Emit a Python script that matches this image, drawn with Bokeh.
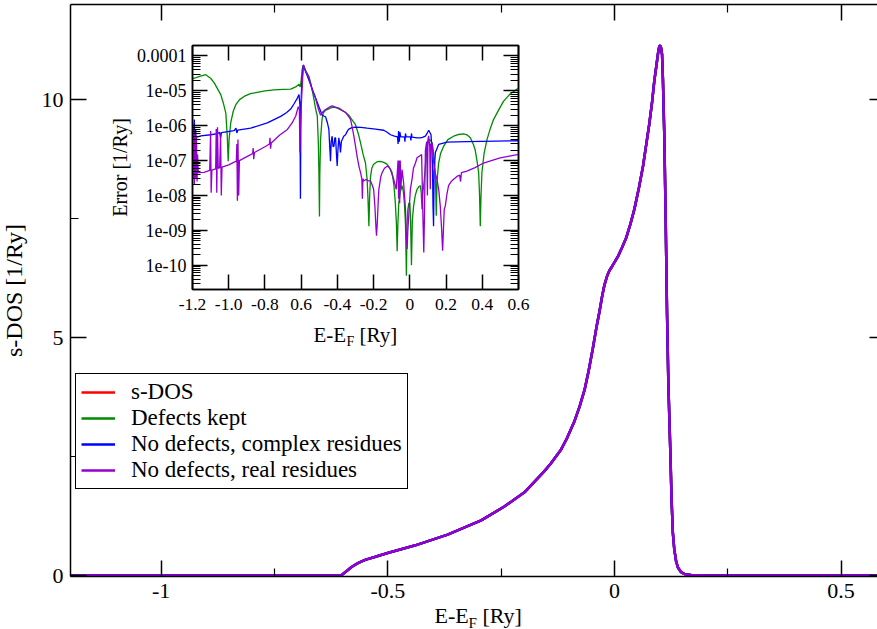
import math
from bokeh.plotting import figure
from bokeh.models import (Range1d, FixedTicker, LinearAxis, LogAxis, Legend, LegendItem,
                          Label, CustomJSTickFormatter, GridBox)
from bokeh.embed import file_html
from bokeh.resources import INLINE

FONT = "Liberation Serif"

# ---------------- main panel data (s-DOS) ----------------
dos_energy = [-1.2, -0.603, -0.59, -0.58, -0.566, -0.55, -0.529, -0.4985, -0.441, -0.368,
              -0.294, -0.243, -0.1985, -0.154, -0.14, -0.1176, -0.105, -0.088, -0.077, -0.066,
              -0.057, -0.0477, -0.04, -0.033, -0.027, -0.022, -0.016, -0.011, -0.005, 0.0075,
              0.016, 0.026, 0.035, 0.044, 0.054, 0.063, 0.07, 0.077, 0.083, 0.088, 0.093,
              0.097, 0.099, 0.1008, 0.103, 0.105, 0.107, 0.110, 0.113, 0.116, 0.119, 0.1235,
              0.126, 0.1288, 0.132, 0.136, 0.14, 0.147, 0.155, 0.169, 0.2, 0.6]
dos_value = [0.0, 0.0, 0.1, 0.18, 0.26, 0.33, 0.39, 0.48, 0.63, 0.86,
             1.16, 1.45, 1.75, 2.2, 2.36, 2.65, 2.88, 3.25, 3.55, 3.9,
             4.3, 4.77, 5.2, 5.55, 5.88, 6.11, 6.3, 6.41, 6.5, 6.7,
             6.88, 7.1, 7.38, 7.7, 8.15, 8.6, 9.05, 9.5, 9.95, 10.4, 10.75,
             11.03, 11.12, 11.14, 11.08, 10.95, 10.4, 9.24, 7.5, 5.51, 4.0, 2.53,
             1.6, 0.9, 0.55, 0.30, 0.17, 0.07, 0.03, 0.01, 0.0, 0.0]

main_xticks = [-1.0, -0.5, 0.0, 0.5]
main_xtick_labels = ["-1", "-0.5", "0", "0.5"]
main_xminor = [-0.75, -0.25, 0.25]
main_yticks = [0.0, 5.0, 10.0]
main_ytick_labels = ["0", "5", "10"]
main_yminor = [2.5, 7.5]

series_names = ["s-DOS", "Defects kept", "No defects, complex residues", "No defects, real residues"]
series_colors = ["#ff0000", "#008b00", "#0000ff", "#9400d3"]

# ---------------- inset data (errors) ----------------
green_x = [-1.2, -1.19, -1.16, -1.127, -1.10, -1.08, -1.06, -1.044, -1.03, -1.016, -1.008, -1.003,
           -0.998, -0.989, -0.975, -0.961, -0.94, -0.915, -0.88, -0.842, -0.80, -0.75, -0.70, -0.658,
           -0.63, -0.612, -0.605, -0.60, -0.595, -0.588, -0.575, -0.557, -0.545, -0.53, -0.52, -0.511,
           -0.505, -0.502, -0.499, -0.497, -0.493, -0.485, -0.478, -0.465, -0.456, -0.44, -0.419, -0.40,
           -0.383, -0.36, -0.337, -0.32, -0.30, -0.285, -0.272, -0.258, -0.245, -0.236, -0.231, -0.226,
           -0.222, -0.217, -0.21, -0.20, -0.18, -0.162, -0.14, -0.125, -0.11, -0.098, -0.088, -0.08,
           -0.074, -0.07, -0.066, -0.061, -0.052, -0.043, -0.036, -0.03, -0.024, -0.019, -0.015, -0.011,
           -0.005, 0.0, 0.004, 0.009, 0.014, 0.021, 0.03, 0.04, 0.05, 0.058, 0.063, 0.067, 0.072, 0.08,
           0.09, 0.098, 0.104, 0.113, 0.123, 0.13, 0.137, 0.142, 0.146, 0.150, 0.159, 0.17, 0.187, 0.21,
           0.242, 0.27, 0.297, 0.315, 0.334, 0.35, 0.361, 0.372, 0.38, 0.385, 0.389, 0.393, 0.398, 0.41,
           0.426, 0.445, 0.462, 0.49, 0.517, 0.55, 0.6]
green_err = [2.3e-5, 2.3e-5, 2.6e-5, 2.9e-5, 2.3e-5, 1.7e-5, 1.1e-5, 7.8e-6, 4.5e-6, 2.3e-6, 5e-7, 9.5e-8,
             4e-7, 1.2e-6, 2.6e-6, 4e-6, 5.6e-6, 6.9e-6, 8.3e-6, 9.1e-6, 1.0e-5, 1.07e-5, 1.1e-5, 1.12e-5,
             1.3e-5, 1.55e-5, 1.3e-5, 2.0e-5, 4e-5, 5.5e-5, 3.8e-5, 2.6e-5, 1.5e-5, 6e-6, 3e-6, 1.9e-6,
             3e-7, 4.5e-8, 2.5e-9, 4e-8, 4e-7, 1.5e-6, 2.3e-6, 2.8e-6, 2.9e-6, 3.2e-6, 3.4e-6, 3.2e-6,
             2.9e-6, 2.5e-6, 2.0e-6, 1.5e-6, 1.07e-6, 6e-7, 3.2e-7, 1.5e-7, 8.5e-8, 3e-8, 8e-9, 1.3e-9,
             9e-9, 3.5e-8, 6e-8, 7.8e-8, 9.3e-8, 9.5e-8, 8.7e-8, 7.8e-8, 6e-8, 4.5e-8, 2e-8, 6e-9,
             1.5e-9, 2.5e-10, 1.5e-9, 6e-9, 1.3e-8, 1.9e-8, 1.3e-8, 6e-9, 1.5e-9, 5e-11, 1.5e-9, 4e-9,
             6e-9, 6e-9, 2e-9, 1e-10, 2e-9, 5e-9, 1e-8, 1.5e-8, 1.8e-8, 1.9e-8, 1.2e-8, 4e-9, 1.2e-8, 2.9e-8,
             1.2e-7, 3e-7, 4e-7, 3.9e-7, 3.2e-7, 1.8e-7, 8.5e-8, 2.5e-8, 2.6e-9, 2.5e-8, 8.5e-8, 1.6e-7, 2.6e-7, 4e-7,
             5e-7, 5.6e-7, 5.8e-7, 5.5e-7, 4.5e-7, 3e-7, 2e-7, 9e-8, 4.5e-8, 1e-8, 1.3e-9, 1e-8, 4.5e-8, 1.6e-7,
             4e-7, 8.5e-7, 1.5e-6, 2.8e-6, 5e-6, 7.8e-6, 1.2e-5]

blue_x = [-1.195, -1.19, -1.187, -1.183, -1.18, -1.154, -1.10, -1.062, -1.05, -1.045, -1.04, -0.97,
          -0.96, -0.955, -0.95, -0.879, -0.787, -0.75, -0.713, -0.68, -0.658, -0.64, -0.621, -0.612,
          -0.607, -0.604, -0.601, -0.597, -0.588, -0.575, -0.557, -0.53, -0.502, -0.484, -0.475, -0.465,
          -0.455, -0.447, -0.443, -0.438, -0.434, -0.429, -0.424, -0.419, -0.414, -0.41, -0.405, -0.401,
          -0.397, -0.392, -0.387, -0.383, -0.378, -0.373, -0.365, -0.355, -0.345, -0.337, -0.32, -0.30,
          -0.27, -0.236, -0.19, -0.144, -0.125, -0.107, -0.085, -0.068, -0.065, -0.062, -0.058, -0.055,
          -0.05, -0.03, -0.027, -0.024, -0.02, 0.003, 0.006, 0.009, 0.012, 0.04, 0.058, 0.07, 0.086,
          0.095, 0.104, 0.11, 0.117, 0.121, 0.125, 0.128, 0.131, 0.134, 0.141, 0.159, 0.205, 0.315, 0.6]
blue_err = [4.5e-7, 1.5e-6, 3e-7, 8e-7, 4.6e-7, 5.1e-7, 5.5e-7, 5.9e-7, 6.5e-7, 4.5e-7, 6.3e-7, 7.2e-7,
            8.5e-7, 6.2e-7, 7.5e-7, 8.5e-7, 1.2e-6, 1.5e-6, 1.85e-6, 2.4e-6, 3.0e-6, 4.2e-6, 6.2e-6, 7.8e-6,
            4e-6, 8e-9, 4e-6, 1.5e-5, 5.5e-5, 3.5e-5, 2.0e-5, 8.5e-6, 3.5e-6, 2.0e-6, 1.9e-6, 1.8e-6,
            1.2e-6, 7.8e-7, 3e-7, 9.5e-8, 3.5e-7, 5e-7, 2.5e-7, 2.6e-7, 4.5e-7, 4.5e-7, 1.5e-7, 7e-8,
            2e-7, 4.5e-7, 3e-7, 1.7e-7, 3.5e-7, 4e-7, 5e-7, 5.5e-7, 7e-7, 8e-7, 8.8e-7, 9.1e-7,
            9e-7, 8.5e-7, 8e-7, 7.4e-7, 6.5e-7, 5.5e-7, 5e-7, 4.8e-7, 3e-7, 7e-7, 3.5e-7, 6.5e-7,
            4.8e-7, 4.8e-7, 3.5e-7, 6e-7, 4.8e-7, 4.8e-7, 3.8e-7, 6e-7, 4.7e-7, 4.5e-7, 4.5e-7, 4.6e-7, 5e-7,
            6e-7, 7.4e-7, 6.5e-7, 5.5e-7, 2.5e-7, 8e-8, 5e-9, 1.3e-9, 5e-8, 1.7e-7, 2.9e-7, 3.4e-7, 3.5e-7, 3.7e-7]

purple_x = [-1.2, -1.197, -1.193, -1.19, -1.186, -1.182, -1.178, -1.175, -1.172, -1.168, -1.136, -1.105,
            -1.10, -1.097, -1.093, -1.072, -1.069, -1.066, -1.062, -1.058, -1.05, -1.045, -1.041, -1.037,
            -1.0, -0.97, -0.958, -0.955, -0.952, -0.949, -0.945, -0.941, -0.879, -0.868, -0.865, -0.862,
            -0.858, -0.80, -0.775, -0.772, -0.769, -0.765, -0.72, -0.676, -0.65, -0.63, -0.616, -0.610,
            -0.607, -0.604, -0.597, -0.588, -0.575, -0.557, -0.54, -0.521, -0.505, -0.493, -0.48, -0.465,
            -0.445, -0.429, -0.41, -0.392, -0.37, -0.355, -0.34, -0.327, -0.318, -0.309, -0.30, -0.291,
            -0.28, -0.272, -0.265, -0.262, -0.259, -0.254, -0.241, -0.23, -0.217, -0.208, -0.2, -0.193,
            -0.187, -0.184, -0.18, -0.175, -0.171, -0.16, -0.153, -0.14, -0.125, -0.115, -0.107, -0.098,
            -0.089, -0.075, -0.065, -0.062, -0.059, -0.056, -0.053, -0.05, -0.043, -0.035, -0.028, -0.024,
            -0.02, -0.015, -0.011, -0.006, 0.003, 0.012, 0.02, 0.031, 0.04, 0.049, 0.058, 0.065, 0.068,
            0.071, 0.074, 0.077, 0.08, 0.083, 0.086, 0.093, 0.097, 0.10, 0.104, 0.11, 0.113, 0.116, 0.123,
            0.132, 0.141, 0.15, 0.16, 0.168, 0.175, 0.181, 0.186, 0.19, 0.196, 0.205, 0.214, 0.228, 0.242,
            0.26, 0.275, 0.28, 0.285, 0.315, 0.36, 0.407, 0.45, 0.499, 0.55, 0.6]
purple_err = [7e-7, 3e-8, 8e-7, 2e-8, 6e-7, 3e-8, 5e-7, 2.5e-8, 1.5e-7, 4.5e-8, 4.6e-8, 5.2e-8,
              7e-7, 1.2e-8, 5.3e-8, 5.8e-8, 8e-7, 1.2e-8, 9e-7, 6e-8, 6.3e-8, 5.5e-7, 1e-8, 6.5e-8,
              7.5e-8, 9e-8, 9.5e-8, 3e-7, 7e-9, 4e-7, 1e-8, 1.0e-7, 1.48e-7, 1.6e-7, 2.3e-7, 1.1e-7,
              1.7e-7, 2.5e-7, 3e-7, 4.5e-7, 2.2e-7, 3.2e-7, 5.3e-7, 7.8e-7, 1.2e-6, 1.9e-6, 3.5e-6, 3e-6,
              1.7e-7, 1e-6, 7e-6, 5.5e-5, 3.6e-5, 2.3e-5, 1.1e-5, 6.2e-6, 3e-6, 2.0e-6, 2.5e-6, 2.9e-6,
              3.4e-6, 3.7e-6, 3.4e-6, 3.2e-6, 2.7e-6, 2.4e-6, 1.9e-6, 1.5e-6, 9e-7, 5e-7, 2.6e-7, 1.3e-7,
              6.5e-8, 4.5e-8, 3e-8, 8e-9, 3e-8, 2.6e-8, 2.9e-8, 2.6e-8, 2.6e-8, 2e-8, 1.5e-8, 5e-9,
              1.2e-9, 7e-10, 1.5e-9, 6e-9, 1.5e-8, 3.5e-8, 4.5e-8, 6e-8, 6.9e-8, 6.5e-8, 5.5e-8, 4e-8,
              2.9e-8, 1.5e-8, 1e-7, 8e-9, 1e-7, 6e-9, 1e-7, 1.5e-8, 5.5e-8, 2.5e-8, 8e-9, 4e-9,
              8e-10, 2.9e-10, 1e-9, 2.6e-9, 1.5e-8, 2.9e-8, 6e-8, 8.5e-8, 1.2e-7, 1.3e-7, 1.4e-7, 1.5e-7, 3e-8,
              5e-9, 1e-9, 2.3e-10, 1.5e-9, 2e-8, 2.0e-7, 3.5e-7, 1e-8, 4e-7, 5.1e-7, 2.5e-7, 1.5e-8, 3e-7, 3.2e-7,
              8.5e-8, 4.2e-8, 2.9e-8, 1.4e-8, 5e-9, 1.2e-9, 2.6e-10, 1.2e-9, 4e-9, 5e-9, 1.1e-8, 1.9e-8, 2.5e-8, 2.9e-8,
              3.5e-8, 3.8e-8, 2.5e-8, 4.5e-8, 5e-8, 6.3e-8, 8.5e-8, 1.0e-7, 1.2e-7, 1.35e-7, 1.5e-7]

inset_xticks = [-1.2, -1.0, -0.8, -0.6, -0.4, -0.2, 0.0, 0.2, 0.4, 0.6]
inset_xtick_labels = ["-1.2", "-1.0", "-0.8", "0.6", "-0.4", "-0.2", "0", "0.2", "0.4", "0.6"]
inset_yticks = [1e-10, 1e-9, 1e-8, 1e-7, 1e-6, 1e-5, 1e-4]
inset_ytick_labels = ["1e-10", "1e-09", "1e-08", "1e-07", "1e-06", "1e-05", "0.0001"]
inset_yminor = [k * 10.0 ** e for e in range(-11, -3) for k in range(2, 10)
                if 2e-11 <= k * 10.0 ** e <= 2e-4]

LIN_CODE = """
let best = 0;
for (let i = 0; i < vals.length; i++) {
  if (Math.abs(vals[i] - tick) < Math.abs(vals[best] - tick)) best = i;
}
return labels[best];
"""
LOG_CODE = """
let best = 0;
for (let i = 0; i < vals.length; i++) {
  if (Math.abs(Math.log(vals[i] / tick)) < Math.abs(Math.log(vals[best] / tick))) best = i;
}
return labels[best];
"""


def style(ax, ticks, minor, labels=None, log=False, major_in=16, minor_in=8,
          standoff=7, size="22px", line=True):
    ax.ticker = FixedTicker(ticks=ticks, minor_ticks=minor)
    ax.axis_line_color = "black" if line else None
    ax.axis_line_width = 1.5
    ax.major_tick_line_color = "black"
    ax.major_tick_line_width = 1.5
    ax.minor_tick_line_color = "black" if minor_in > 0 else None
    ax.minor_tick_line_width = 1.2
    ax.major_tick_in = major_in
    ax.major_tick_out = 0
    ax.minor_tick_in = minor_in
    ax.minor_tick_out = 0
    if labels is None:
        ax.formatter = CustomJSTickFormatter(code="return ''")
        ax.major_label_text_font_size = "0px"
        ax.major_label_standoff = 0
    else:
        ax.formatter = CustomJSTickFormatter(args=dict(vals=ticks, labels=labels),
                                             code=LOG_CODE if log else LIN_CODE)
        ax.major_label_text_font = FONT
        ax.major_label_text_font_size = size
        ax.major_label_text_color = "black"
        ax.major_label_standoff = standoff


W, H = 877, 629

# ---------------- main figure ----------------
p = figure(width=W, height=H, output_backend="svg", toolbar_location=None,
           x_range=Range1d(-1.2, 0.5803), y_range=Range1d(-0.02, 12.0),
           min_border_left=70, min_border_right=0, min_border_top=4, min_border_bottom=53)
p.grid.visible = False
p.outline_line_color = None
p.background_fill_color = "white"
p.border_fill_color = "white"
p.frame_align = False

style(p.xaxis[0], main_xticks, main_xminor, main_xtick_labels, standoff=7)
style(p.yaxis[0], main_yticks, main_yminor, main_ytick_labels, standoff=7)
top_ax = LinearAxis()
p.add_layout(top_ax, "above")
style(top_ax, main_xticks, main_xminor)
right_ax = LinearAxis()
p.add_layout(right_ax, "right")
style(right_ax, main_yticks, main_yminor, major_in=8, minor_in=0, line=False)

renderers = []
for name, col in zip(series_names, series_colors):
    r = p.line(dos_energy, dos_value, line_color=col, line_width=2.5)
    renderers.append(r)

legend = Legend(items=[LegendItem(label=n, renderers=[r]) for n, r in zip(series_names, renderers)],
                location=(5, 87), margin=0, padding=5, spacing=0,
                glyph_width=34, glyph_height=20, label_standoff=16,
                label_text_font=FONT, label_text_font_size="23px", label_text_color="black",
                border_line_color="black", border_line_width=1.2, border_line_alpha=1.0,
                background_fill_color="white", background_fill_alpha=1.0)
p.add_layout(legend)

# ---------------- inset figure ----------------
q = figure(width=436, height=310, output_backend="svg", toolbar_location=None,
           x_range=Range1d(-1.2, 0.6), y_range=Range1d(2e-11, 2e-4), y_axis_type="log",
           min_border_left=96, min_border_right=14, min_border_top=8, min_border_bottom=58)
q.grid.visible = False
q.border_fill_color = None
q.background_fill_color = "white"
q.outline_line_color = "black"
q.outline_line_width = 1.5
q.frame_align = False

style(q.xaxis[0], inset_xticks, [], inset_xtick_labels, major_in=15, standoff=9, size="17.5px")
style(q.yaxis[0], inset_yticks, inset_yminor, inset_ytick_labels, log=True, major_in=15,
      standoff=6, size="18px")
q_top = LinearAxis()
q.add_layout(q_top, "above")
style(q_top, inset_xticks, [], major_in=15)
q_right = LogAxis()
q.add_layout(q_right, "right")
style(q_right, inset_yticks, inset_yminor, major_in=15)

q.line(green_x, green_err, line_color=series_colors[1], line_width=1.3)
q.line(blue_x, blue_err, line_color=series_colors[2], line_width=1.3)
q.line(purple_x, purple_err, line_color=series_colors[3], line_width=1.3)

# ---------------- transparent overlay for axis titles (page pixel coordinates) ----------------
ov = figure(width=W, height=H, output_backend="svg", toolbar_location=None,
            x_range=Range1d(0, W), y_range=Range1d(H, 0),
            min_border=0, min_border_left=0, min_border_right=0, min_border_top=0,
            min_border_bottom=0, x_axis_location=None, y_axis_location=None)
ov.grid.visible = False
ov.background_fill_color = None
ov.border_fill_color = None
ov.outline_line_color = None
ov.frame_align = False


def txt(x, y, s, size, angle=0.0, align="left", baseline="alphabetic"):
    ov.add_layout(Label(x=x, y=y, text=s, text_font=FONT, text_font_size=size, angle=angle,
                        text_align=align, text_baseline=baseline, text_color="black"))


# main x title
txt(434, 615, "E-E", "22px")
txt(468, 622, "F", "15px")
txt(482, 615, "[Ry]", "22px")
# main y title
txt(13, 290, "s-DOS [1/Ry]", "24px", angle=math.pi / 2, align="center", baseline="middle")
# inset x title
txt(313, 334, "E-E", "21px")
txt(346, 341, "F", "14px")
txt(359, 334, "[Ry]", "21px")
# inset y title
txt(119, 167, "Error [1/Ry]", "20px", angle=math.pi / 2, align="center", baseline="middle")

layout = GridBox(children=[(p, 0, 0, 3, 3), (q, 1, 1, 1, 1), (ov, 0, 0, 3, 3)],
                 rows=["37px", "310px", "282px"], cols=["96px", "436px", "345px"])

open("out.html", "w").write(file_html(layout, INLINE))
